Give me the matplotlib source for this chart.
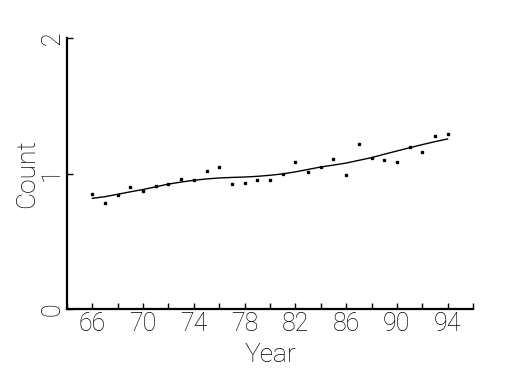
import matplotlib
matplotlib.use("Agg")
import matplotlib.pyplot as plt

# data
years = list(range(66, 95))
counts = [0.850, 0.783, 0.842, 0.901, 0.874, 0.911, 0.926, 0.960, 0.953, 1.021,
          1.051, 0.923, 0.933, 0.953, 0.953, 1.001, 1.091, 1.014, 1.051, 1.110,
          0.990, 1.221, 1.119, 1.100, 1.090, 1.201, 1.159, 1.282, 1.292]
# smooth fitted line
fit = [0.820, 0.832, 0.850, 0.868, 0.885, 0.905, 0.925, 0.940, 0.953, 0.963,
       0.970, 0.974, 0.977, 0.982, 0.990, 1.000, 1.015, 1.033, 1.051, 1.065,
       1.080, 1.100, 1.120, 1.145, 1.169, 1.193, 1.216, 1.238, 1.258]
major_ticks = [66, 70, 74, 78, 82, 86, 90, 94]
minor_ticks = list(range(64, 97, 2))
y_ticks = [0, 1, 2]

plt.rcParams['font.family'] = ['Roboto', 'DejaVu Sans']

fig = plt.figure(figsize=(5.25, 3.75), dpi=100)
ax = fig.add_axes([0.1276, 0.1747, 0.7734, 0.7231])

ax.plot(years, fit, color="black", linewidth=1.0)
ax.plot(years, counts, linestyle="none", marker="s", markersize=1.8, color="black")

ax.set_xlim(64, 96)
ax.set_ylim(0, 2)
ax.set_xticks(major_ticks)
ax.set_xticks(minor_ticks, minor=True)
ax.set_yticks(y_ticks)
ax.set_yticklabels([str(t) for t in y_ticks], rotation=90, va="center")

for s in ["top", "right"]:
    ax.spines[s].set_visible(False)
for s in ["left", "bottom"]:
    ax.spines[s].set_linewidth(1.6)

ax.tick_params(axis="both", which="both", direction="in", length=4, width=1,
               labelsize=18)
ax.tick_params(axis="x", which="both", pad=2)
ax.tick_params(axis="y", which="both", pad=2)
for lab in ax.get_xticklabels() + ax.get_yticklabels():
    lab.set_fontweight("light")

ax.set_xlabel("Year", fontsize=19, fontweight="light", labelpad=5)
ax.set_ylabel("Count", fontsize=19, fontweight="light", labelpad=1)

fig.savefig("out.png", dpi=100)
